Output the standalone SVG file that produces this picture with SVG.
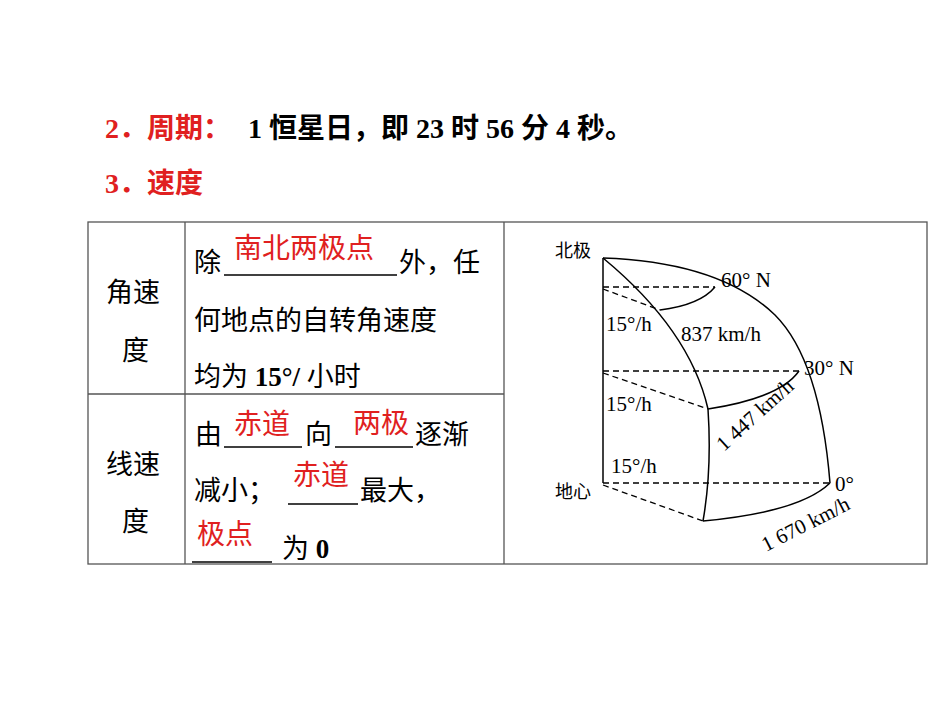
<svg xmlns="http://www.w3.org/2000/svg" width="950" height="713" viewBox="0 0 950 713">
<style>
.t{font-family:"Liberation Serif","Noto Sans CJK SC",serif;font-size:27px;fill:#000}
.r{font-family:"Noto Sans CJK SC",sans-serif;font-size:28px;fill:#e02020}
.h{font-family:"Liberation Serif","Noto Sans CJK SC",serif;font-size:28px;font-weight:bold}
.s{font-family:"Liberation Serif","Noto Sans CJK SC",serif;font-size:21px;fill:#000}
.g{stroke:#555;stroke-width:1.3;fill:none}
.u{stroke:#000;stroke-width:1.5}
.l{stroke:#000;stroke-width:1.5;fill:none}
.d{stroke:#000;stroke-width:1.3;stroke-dasharray:6,4;fill:none}
</style>
<rect width="950" height="713" fill="#fff"/>
<g id="heading">
<text x="105" y="138" class="h" fill="#e02020">2．周期：</text>
<text x="248" y="138" class="h" fill="#000">1 恒星日，即 23 时 56 分 4 秒。</text>
<text x="105" y="193" class="h" fill="#e02020">3．速度</text>
</g>
<g id="table">
<rect x="88" y="222" width="839" height="342" class="g"/>
<line x1="185" y1="222" x2="185" y2="564" class="g"/>
<line x1="504" y1="222" x2="504" y2="564" class="g"/>
<line x1="88" y1="394" x2="504" y2="394" class="g"/>
<text x="106" y="302" class="t">角速</text>
<text x="122" y="360" class="t">度</text>
<text x="106" y="474" class="t">线速</text>
<text x="122" y="531" class="t">度</text>
<text x="194" y="272" class="t">除</text>
<line x1="224" y1="275" x2="397" y2="275" class="u"/>
<text x="234" y="258" class="r">南北两极点</text>
<text x="399" y="272" class="t">外，任</text>
<text x="194" y="330" class="t">何地点的自转角速度</text>
<text x="194" y="386" class="t">均为 <tspan font-weight="bold">15°/</tspan> 小时</text>
<text x="195" y="444" class="t">由</text>
<line x1="224" y1="447" x2="302" y2="447" class="u"/>
<text x="234" y="434" class="r">赤道</text>
<text x="305" y="444" class="t">向</text>
<line x1="335" y1="447" x2="413" y2="447" class="u"/>
<text x="353" y="433" class="r">两极</text>
<text x="415" y="444" class="t">逐渐</text>
<text x="194" y="500" class="t">减小；</text>
<line x1="288" y1="504" x2="358" y2="504" class="u"/>
<text x="293" y="485" class="r">赤道</text>
<text x="360" y="500" class="t">最大，</text>
<text x="197" y="544" class="r">极点</text>
<line x1="192" y1="562" x2="272" y2="562" class="u"/>
<text x="282" y="558" class="t">为 <tspan font-weight="bold">0</tspan></text>
</g>
<g id="globe">
<line x1="603" y1="258" x2="603" y2="483" class="l"/>
<path d="M603,258 Q720,262 775,315 Q820,360 830,483" class="l"/>
<path d="M603,258 Q690,330 708,409 Q712,470 703,521" class="l"/>
<path d="M715,287 Q700,305 660,310" class="l"/>
<path d="M799,371 Q780,398 708,409" class="l"/>
<path d="M830,483 Q800,512 703,521" class="l"/>
<line x1="603" y1="287" x2="715" y2="287" class="d"/>
<line x1="603" y1="289" x2="660" y2="310" class="d"/>
<line x1="603" y1="371" x2="799" y2="371" class="d"/>
<line x1="603" y1="373" x2="708" y2="409" class="d"/>
<line x1="603" y1="483" x2="830" y2="483" class="d"/>
<line x1="603" y1="485" x2="703" y2="521" class="d"/>
<text x="555" y="257" font-family="Noto Sans CJK SC,sans-serif" font-size="18">北极</text>
<text x="555" y="498" font-family="Noto Sans CJK SC,sans-serif" font-size="18">地心</text>
<text x="721" y="287" class="s">60° N</text>
<text x="804" y="375" class="s">30° N</text>
<text x="835" y="491" class="s">0°</text>
<text x="606" y="331" class="s">15°/h</text>
<text x="606" y="411" class="s">15°/h</text>
<text x="611" y="473" class="s">15°/h</text>
<text x="681" y="341" class="s">837 km/h</text>
<text transform="translate(724,452) rotate(-42)" class="s">1 447 km/h</text>
<text transform="translate(766,552) rotate(-27)" class="s">1 670 km/h</text>
</g>
</svg>
